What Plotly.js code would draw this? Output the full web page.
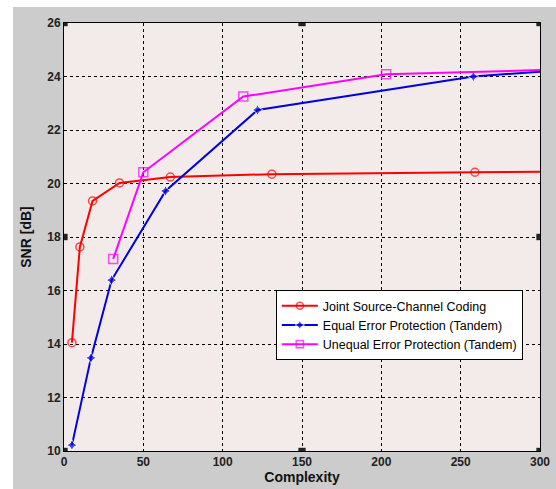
<!DOCTYPE html>
<html>
<head>
<meta charset="utf-8">
<script src="https://cdn.plot.ly/plotly-3.0.1.min.js"></script>
<style>html,body{margin:0;padding:0;background:#fff;}#chart{width:556px;height:489px;}</style>
</head>
<body>
<div id="chart"></div>
<script>
const seriesNames = ["Joint Source-Channel Coding", "Equal Error Protection (Tandem)", "Unequal Error Protection (Tandem)"];
const jsccX = [5, 10, 18, 35, 67, 131, 259, 300];
const jsccY = [14.05, 17.63, 19.35, 20.02, 20.24, 20.35, 20.42, 20.44];
const eepX = [5, 17, 30, 64, 122, 258, 300];
const eepY = [10.22, 13.48, 16.39, 19.72, 22.75, 24.0, 24.18];
const uepX = [31, 50, 113, 203, 300];
const uepY = [17.18, 20.42, 23.25, 24.08, 24.24];
const xTicks = [0, 50, 100, 150, 200, 250, 300];
const yTicks = [10, 12, 14, 16, 18, 20, 22, 24, 26];

// the last point of each series lies on the plot edge and carries no marker
const sizes = (arr, s) => arr.map((v, i) => i === arr.length - 1 ? 0 : s);

const traces = [
  {x: jsccX, y: jsccY, name: seriesNames[0], mode: "lines+markers",
   line: {color: "#ff0000", width: 2},
   marker: {symbol: "circle-open", size: sizes(jsccX, 8), color: "#ff0000", line: {width: 1.5, color: "#ff0000"}}},
  {x: eepX, y: eepY, name: seriesNames[1], mode: "lines+markers",
   line: {color: "#0000e0", width: 2},
   marker: {symbol: "star-diamond", size: sizes(eepX, 8), color: "#0000e0"}},
  {x: uepX, y: uepY, name: seriesNames[2], mode: "lines+markers",
   line: {color: "#ff00ff", width: 2},
   marker: {symbol: "square-open", size: sizes(uepX, 9), color: "#ff00ff", line: {width: 1.5, color: "#ff00ff"}}}
];

const handles = [[0,26],[150,26],[300,26],[300,18],[300,10],[150,10],[0,10],[0,18]];
const shapes = [
  {type: "rect", xref: "paper", yref: "paper", x0: -0.2, x1: 1.1, y0: 1.0374, y1: 1.2, line: {width: 0}, fillcolor: "#ffffff", layer: "below"},
  {type: "rect", xref: "paper", yref: "paper", x0: -0.2, x1: -0.1071, y0: -0.2, y1: 1.2, line: {width: 0}, fillcolor: "#ffffff", layer: "below"}
];
handles.forEach(h => {
  shapes.push({type: "rect", xref: "x", yref: "y", x0: h[0] - 2.3, x1: h[0] + 2.3, y0: h[1] - 0.12, y1: h[1] + 0.12,
    line: {width: 0}, fillcolor: "#222222"});
});

const layout = {
  width: 556, height: 489,
  margin: {l: 64, r: 16, t: 23, b: 38},
  paper_bgcolor: "#cccccc",
  plot_bgcolor: "#f3eaea",
  font: {family: "Liberation Sans, Arial, sans-serif", size: 12, color: "#222222"},
  showlegend: true,
  legend: {x: 0.445, y: 0.376, xanchor: "left", yanchor: "top",
    bgcolor: "#ffffff", bordercolor: "#000000", borderwidth: 1,
    font: {size: 12.5, color: "#000000"}, tracegroupgap: 0, itemwidth: 36},
  xaxis: {range: [0, 300], tickvals: xTicks, ticktext: xTicks.map(String),
    showgrid: true, gridcolor: "#000000", gridwidth: 1, griddash: "3px,3px",
    showline: true, linecolor: "#000000", linewidth: 1, mirror: true,
    ticks: "", zeroline: false,
    tickfont: {size: 12, family: "Liberation Sans, Arial, sans-serif", color: "#222222", weight: "bold"},
    title: {text: "Complexity", font: {size: 14, weight: "bold", color: "#111111"}, standoff: 2}},
  yaxis: {range: [10, 26], tickvals: yTicks, ticktext: yTicks.map(String),
    showgrid: true, gridcolor: "#000000", gridwidth: 1, griddash: "3px,3px",
    showline: true, linecolor: "#000000", linewidth: 1, mirror: true,
    ticks: "", zeroline: false,
    tickfont: {size: 12, family: "Liberation Sans, Arial, sans-serif", color: "#222222", weight: "bold"},
    title: {text: "SNR [dB]", font: {size: 14, weight: "bold", color: "#111111"}, standoff: 12}},
  shapes: shapes
};

Plotly.newPlot("chart", traces, layout, {displayModeBar: false, staticPlot: true});
</script>
</body>
</html>
